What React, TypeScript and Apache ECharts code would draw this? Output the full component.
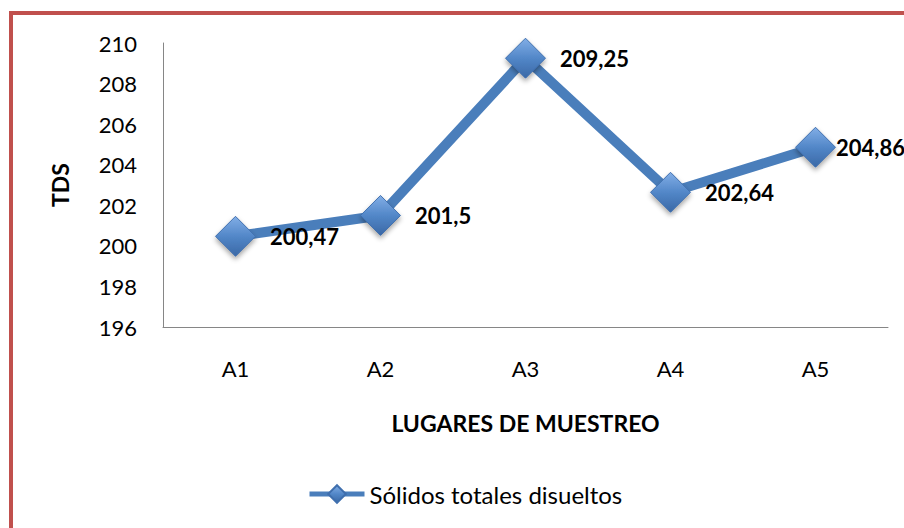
import React, { useEffect, useRef } from "react";
import * as echarts from "echarts";

const categories = ["A1", "A2", "A3", "A4", "A5"];
const tdsValues = [200.47, 201.5, 209.25, 202.64, 204.86];
const seriesName = "Sólidos totales disueltos";
const xTitle = "LUGARES DE MUESTREO";
const yTitle = "TDS";

const FONT = "Lato, 'Open Sans', sans-serif";

export default function App() {
  const ref = useRef<HTMLDivElement>(null);
  useEffect(() => {
    if (!ref.current) return;
    const chart = echarts.init(ref.current, undefined, { renderer: "svg" });
    const markerFill = new echarts.graphic.LinearGradient(0, 0, 0, 1, [
      { offset: 0, color: "#82AEE6" },
      { offset: 0.5, color: "#5287C8" },
      { offset: 1, color: "#3A68A6" },
    ]);
    const lastIndex = tdsValues.length - 1;
    const seriesData = tdsValues.map((v, i) =>
      i === lastIndex ? { value: v, label: { distance: 0 } } : { value: v }
    );
    chart.setOption({
      animation: false,
      backgroundColor: "#ffffff",
      textStyle: { fontFamily: FONT },
      graphic: [
        {
          type: "rect",
          shape: { x: 11, y: 13, width: 1000, height: 700 },
          style: { fill: "none", stroke: "#C0504D", lineWidth: 4 },
          z: 100,
        },
      ],
      grid: { left: 163, right: 16, top: 43, bottom: 201 },
      legend: {
        left: 302,
        top: 477,
        itemWidth: 55,
        itemHeight: 22,
        data: [seriesName],
        lineStyle: { width: 5 },
        textStyle: { fontSize: 24, color: "#000", fontFamily: FONT },
      },
      xAxis: {
        type: "category",
        data: categories,
        boundaryGap: true,
        name: xTitle,
        nameLocation: "middle",
        nameGap: 84,
        nameTextStyle: { fontSize: 23, fontWeight: "bold", color: "#000", fontFamily: FONT },
        axisLine: { show: true, lineStyle: { color: "#868686", width: 1 } },
        axisTick: { show: false },
        axisLabel: { fontSize: 22, color: "#000", margin: 30, fontFamily: FONT },
        splitLine: { show: false },
      },
      yAxis: {
        type: "value",
        min: 196,
        max: 210,
        interval: 2,
        name: yTitle,
        nameLocation: "middle",
        nameGap: 92,
        nameRotate: 90,
        nameTextStyle: { fontSize: 23, fontWeight: "bold", color: "#000", fontFamily: FONT },
        axisLine: { show: true, lineStyle: { color: "#868686", width: 1 } },
        axisTick: { show: false },
        axisLabel: { fontSize: 22, color: "#000", margin: 26, fontFamily: FONT },
        splitLine: { show: false },
      },
      series: [
        {
          name: seriesName,
          type: "line",
          data: seriesData,
          symbol: "diamond",
          symbolSize: 40,
          lineStyle: { color: "#4A7EBB", width: 10 },
          itemStyle: {
            color: markerFill,
            borderColor: "#3F6FAE",
            borderWidth: 1,
            shadowBlur: 5,
            shadowColor: "rgba(0,0,0,0.35)",
            shadowOffsetY: 3,
          },
          label: {
            show: true,
            position: "right",
            distance: 14,
            fontSize: 22,
            fontWeight: "bold",
            color: "#000",
            fontFamily: FONT,
            formatter: (p: any) => String(p.value).replace(".", ","),
          },
          z: 3,
        },
      ],
    });
    return () => chart.dispose();
  }, []);
  return (
    <div
      ref={ref}
      style={{ position: "absolute", left: 0, top: 0, width: 904, height: 528 }}
    />
  );
}
